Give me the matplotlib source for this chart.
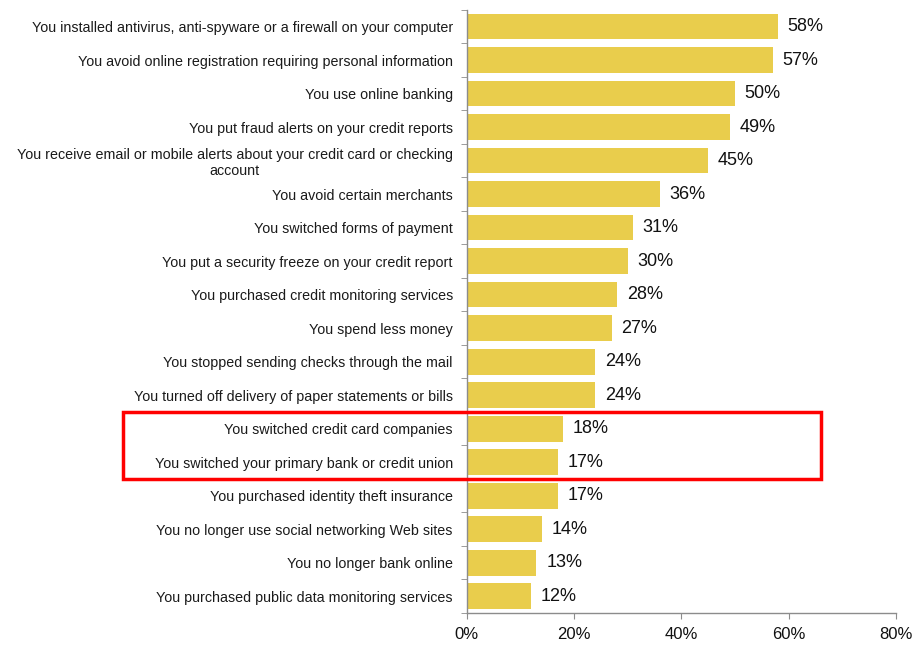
"""
Horizontal bar chart of actions taken to protect against fraud
"""
import matplotlib
matplotlib.use('Agg')
import matplotlib.pyplot as plt
import matplotlib.transforms as mtransforms
from matplotlib.patches import Rectangle
import numpy as np

plt.rcParams['font.family'] = ['Liberation Sans', 'DejaVu Sans']

actions = [
    'You installed antivirus, anti-spyware or a firewall on your computer',
    'You avoid online registration requiring personal information',
    'You use online banking',
    'You put fraud alerts on your credit reports',
    'You receive email or mobile alerts about your credit card or checking\naccount',
    'You avoid certain merchants',
    'You switched forms of payment',
    'You put a security freeze on your credit report',
    'You purchased credit monitoring services',
    'You spend less money',
    'You stopped sending checks through the mail',
    'You turned off delivery of paper statements or bills',
    'You switched credit card companies',
    'You switched your primary bank or credit union',
    'You purchased identity theft insurance',
    'You no longer use social networking Web sites',
    'You no longer bank online',
    'You purchased public data monitoring services',
]
percents = [58, 57, 50, 49, 45, 36, 31, 30, 28, 27, 24, 24, 18, 17, 17, 14, 13, 12]
highlighted = [12, 13]  # rows boxed in red

bar_color = '#E9CD4C'
axis_color = '#8C8C8C'

fig = plt.figure(figsize=(9.17, 6.5), dpi=100)
ax = fig.add_axes([0.509, 0.057, 0.468, 0.928])

y = np.arange(len(actions))
bars = ax.barh(y, percents, height=0.77, color=bar_color)

ax.set_xlim(0, 80)
ax.set_ylim(len(actions) - 0.5, -0.5)

ax.set_xticks([0, 20, 40, 60, 80])
ax.set_xticklabels([f'{v}%' for v in [0, 20, 40, 60, 80]], fontsize=12, color='#111111')
ax.tick_params(axis='x', length=4, color=axis_color, pad=6)

# category labels, with tick marks between rows
ax.set_yticks(y)
ax.set_yticklabels(actions, fontsize=10.3, color='#1a1a1a', multialignment='center')
ax.tick_params(axis='y', which='major', length=0, pad=10)
ax.set_yticks(np.arange(-0.5, len(actions), 1), minor=True)
ax.tick_params(axis='y', which='minor', length=4, color=axis_color)

for side in ['top', 'right']:
    ax.spines[side].set_visible(False)
for side in ['left', 'bottom']:
    ax.spines[side].set_color(axis_color)
    ax.spines[side].set_linewidth(1.0)

# value labels at the end of each bar
for bar, pct in zip(bars, percents):
    ax.annotate(f'{pct}%',
                xy=(bar.get_width(), bar.get_y() + bar.get_height() / 2),
                xytext=(7, 0), textcoords='offset points',
                ha='left', va='center', fontsize=13, color='#111111')

# red box around the switching rows
trans = mtransforms.blended_transform_factory(fig.transFigure, ax.transData)
top_row, bottom_row = min(highlighted), max(highlighted)
box = Rectangle((0.134, top_row - 0.5), 0.761, bottom_row - top_row + 1,
                transform=trans, fill=False, edgecolor='#FF0000',
                linewidth=2.5, clip_on=False, zorder=5)
ax.add_patch(box)

plt.savefig('out.png', dpi=100)
plt.close()
